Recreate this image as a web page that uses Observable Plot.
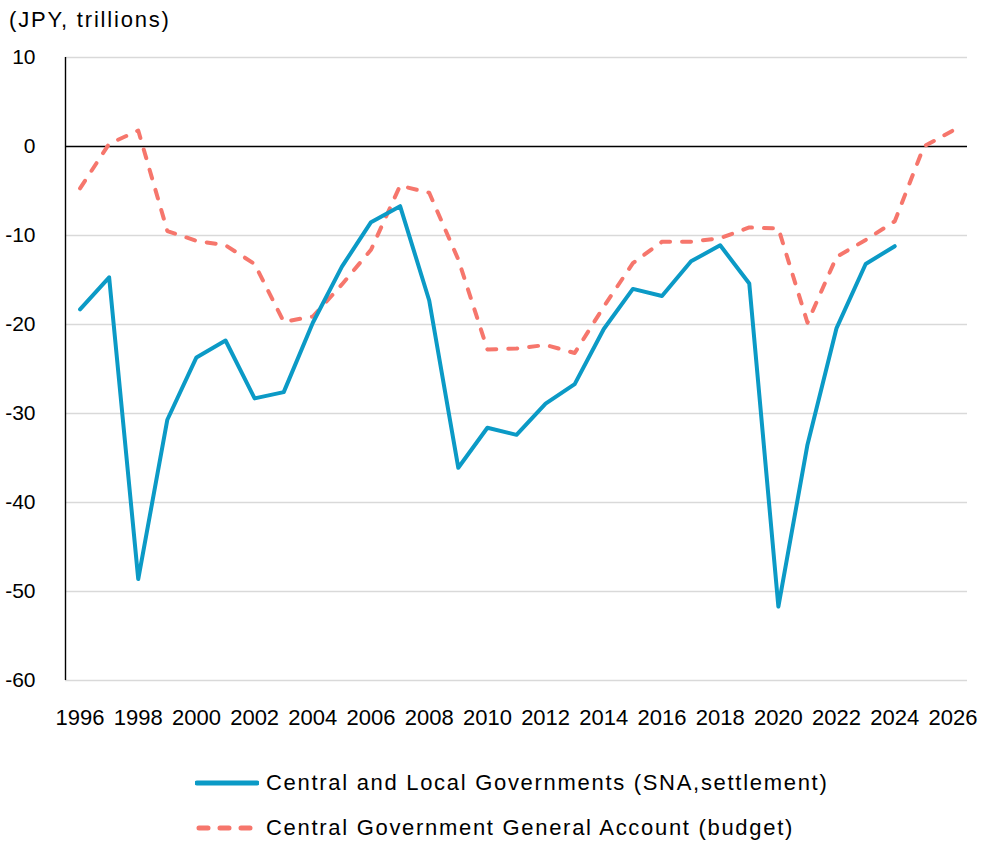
<!DOCTYPE html>
<html>
<head>
<meta charset="utf-8">
<script src="https://cdn.jsdelivr.net/npm/d3@7"></script>
<script src="https://cdn.jsdelivr.net/npm/@observablehq/plot@0.6"></script>
<style>
  body { margin: 0; background: #fff; }
  #wrap { position: relative; width: 1000px; height: 846px; font-family: "Liberation Sans", Arial, sans-serif; color: #000; }
  #title { position: absolute; left: 9px; top: 7px; font-size: 22px; letter-spacing: 1.8px; }
  #chart { position: absolute; left: 0; top: 40px; }
  #legend { position: absolute; left: 195px; top: 760px; font-size: 22px; }
  .row { display: flex; align-items: center; height: 45px; }
  .row svg { margin-right: 7px; }
</style>
</head>
<body>
<div id="wrap">
  <div id="title">(JPY, trillions)</div>
  <div id="chart"></div>
  <div id="legend"></div>
</div>
<script>
const years = d3.range(1996, 2027);
const snaValues = [-18.3,-14.7,-48.6,-30.7,-23.7,-21.8,-28.3,-27.6,-19.8,-13.5,-8.5,-6.7,-17.3,-36.1,-31.6,-32.4,-28.9,-26.7,-20.5,-16.0,-16.8,-12.9,-11.1,-15.4,-51.7,-33.5,-20.4,-13.2,-11.2];
const budgetValues = [-4.7,0.3,1.8,-9.5,-10.6,-11.1,-13.2,-19.7,-19.1,-15.5,-11.6,-4.4,-5.2,-12.7,-22.8,-22.7,-22.3,-23.2,-18.0,-13.1,-10.7,-10.7,-10.3,-9.1,-9.2,-19.8,-12.4,-10.5,-8.4,0.0,1.8];
const xTicks = d3.range(1996, 2027, 2);
const yTicks = [-60,-50,-40,-30,-20,-10,0,10];
const seriesNames = ["Central and Local Governments (SNA,settlement)", "Central Government General Account (budget)"];
const colors = ["#0b9ac6", "#f6766c"];

const sna = snaValues.map((v, i) => ({year: years[i], value: v}));
const budget = budgetValues.map((v, i) => ({year: years[i], value: v}));

const chart = Plot.plot({
  width: 1000,
  height: 700,
  marginTop: 17,
  marginBottom: 60,
  marginLeft: 65,
  marginRight: 33,
  style: {fontFamily: "Liberation Sans, Arial, sans-serif", background: "#fff"},
  x: {domain: [1995.5, 2026.5]},
  y: {domain: [-60, 10]},
  marks: [
    Plot.ruleY(yTicks.filter(d => d !== 0), {stroke: "#d9d9d9", strokeWidth: 1.6}),
    Plot.ruleY([0], {stroke: "#000", strokeWidth: 1.4}),
    Plot.ruleX([1995.5], {y1: -60, y2: 10, stroke: "#000", strokeWidth: 1.4}),
    Plot.axisX({ticks: xTicks, tickSize: 0, tickPadding: 29, tickFormat: d => String(d), fontSize: 22, label: null}),
    Plot.axisY({ticks: yTicks, tickSize: 0, tickPadding: 30, tickFormat: d => String(d), fontSize: 21, label: null}),
    Plot.line(budget, {x: "year", y: "value", stroke: colors[1], strokeWidth: 4, strokeDasharray: "9,12", strokeLinecap: "round"}),
    Plot.line(sna, {x: "year", y: "value", stroke: colors[0], strokeWidth: 4})
  ]
});
document.getElementById("chart").appendChild(chart);

const legend = document.getElementById("legend");
seriesNames.forEach((name, i) => {
  const row = document.createElement("div");
  row.className = "row";
  const dash = i === 1 ? 'stroke-dasharray="9,12" stroke-linecap="round"' : 'stroke-linecap="round"';
  row.innerHTML = `<svg width="64" height="10"><line x1="${i===1?4:2}" y1="5" x2="62" y2="5" stroke="${colors[i]}" stroke-width="5" ${dash}/></svg><span style="letter-spacing:1.7px">${name}</span>`;
  legend.appendChild(row);
});
</script>
</body>
</html>
